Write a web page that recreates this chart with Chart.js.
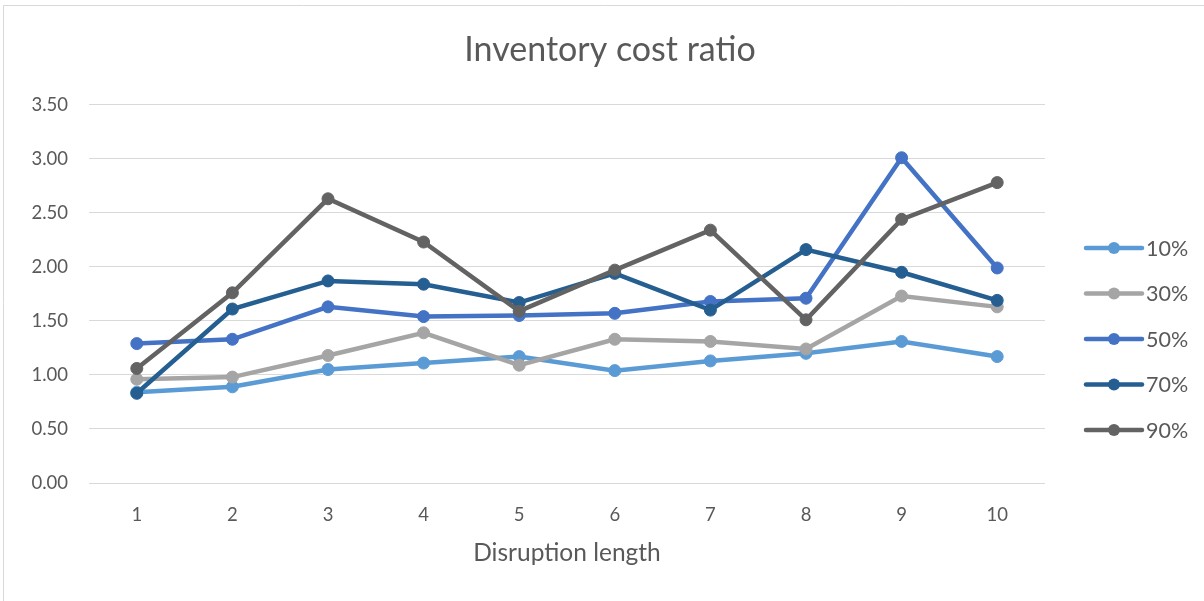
<!DOCTYPE html>
<html>
<head>
<meta charset="utf-8">
<title>Inventory cost ratio</title>
<script src="https://cdn.jsdelivr.net/npm/chart.js@4/dist/chart.umd.min.js"></script>
<style>
  html, body { margin: 0; padding: 0; background: #ffffff; }
  #wrap { position: relative; width: 1204px; height: 601px; }
</style>
</head>
<body>
<div id="wrap"><canvas id="chart" width="1204" height="601"></canvas></div>
<script>
// Disruption length categories
const categories = ['1', '2', '3', '4', '5', '6', '7', '8', '9', '10'];

// Inventory cost ratio per disruption level
const seriesLabels = ['10%', '30%', '50%', '70%', '90%'];
const s10 = [0.84, 0.89, 1.05, 1.11, 1.17, 1.04, 1.13, 1.20, 1.31, 1.17];
const s30 = [0.96, 0.98, 1.18, 1.39, 1.09, 1.33, 1.31, 1.24, 1.73, 1.63];
const s50 = [1.29, 1.33, 1.63, 1.54, 1.55, 1.57, 1.68, 1.71, 3.01, 1.99];
const s70 = [0.83, 1.61, 1.87, 1.84, 1.67, 1.94, 1.60, 2.16, 1.95, 1.69];
const s90 = [1.06, 1.76, 2.63, 2.23, 1.59, 1.97, 2.34, 1.51, 2.44, 2.78];
const seriesColors = ['#5B9BD5', '#A5A5A5', '#4472C4', '#255E91', '#636363'];

const allSeries = [s10, s30, s50, s70, s90];

const FONT = 'Lato, "Open Sans", "DejaVu Sans", sans-serif';
const TEXT = '#595959';

const datasets = allSeries.map((vals, i) => ({
  label: seriesLabels[i],
  data: vals,
  borderColor: seriesColors[i],
  backgroundColor: seriesColors[i],
  pointBackgroundColor: seriesColors[i],
  pointBorderColor: seriesColors[i],
  borderWidth: 4.5,
  pointRadius: 6,
  pointBorderWidth: 1,
  pointHoverRadius: 6,
  tension: 0,
  order: allSeries.length - 1 - i,
  yAxisID: 'y'
}));

// Thin frame around the chart
const framePlugin = {
  id: 'frame',
  beforeDraw(chart) {
    const ctx = chart.ctx;
    ctx.save();
    ctx.fillStyle = '#ffffff';
    ctx.fillRect(0, 0, chart.width, chart.height);
    ctx.strokeStyle = '#d9d9d9';
    ctx.lineWidth = 1;
    ctx.beginPath();
    ctx.moveTo(3.5, chart.height);
    ctx.lineTo(3.5, 5.5);
    ctx.lineTo(chart.width, 5.5);
    ctx.stroke();
    ctx.restore();
  }
};

// Legend on the right: line segment with a marker, then the label
const sideLegend = {
  id: 'sideLegend',
  afterDraw(chart) {
    const ctx = chart.ctx;
    const x0 = 1086, x1 = 1142, textX = 1146;
    const yStart = 248, step = 45.5;
    ctx.save();
    chart.data.datasets.forEach((ds, i) => {
      const y = yStart + i * step;
      ctx.strokeStyle = ds.borderColor;
      ctx.lineWidth = 4.5;
      ctx.lineCap = 'round';
      ctx.beginPath();
      ctx.moveTo(x0, y);
      ctx.lineTo(x1, y);
      ctx.stroke();
      ctx.fillStyle = ds.pointBackgroundColor;
      ctx.beginPath();
      ctx.arc((x0 + x1) / 2, y, 6, 0, Math.PI * 2);
      ctx.fill();
      ctx.fillStyle = TEXT;
      ctx.font = '21.5px ' + FONT;
      ctx.textBaseline = 'middle';
      ctx.textAlign = 'left';
      ctx.fillText(ds.label, textX, y + 1);
    });
    ctx.restore();
  }
};

new Chart(document.getElementById('chart'), {
  type: 'line',
  data: { labels: categories, datasets },
  plugins: [framePlugin, sideLegend],
  options: {
    responsive: false,
    animation: false,
    devicePixelRatio: 1,
    layout: { padding: { left: 16, right: 0, top: 0, bottom: 0 } },
    plugins: {
      legend: { display: false },
      tooltip: { enabled: false },
      title: {
        display: true,
        text: 'Inventory cost ratio',
        color: TEXT,
        font: { family: FONT, size: 34, weight: 'normal' },
        padding: { top: 30, bottom: 34 }
      }
    },
    scales: {
      x: {
        offset: true,
        grid: { display: false, drawTicks: false },
        border: { display: false },
        ticks: { color: TEXT, font: { family: FONT, size: 18.5 }, padding: 21 },
        title: {
          display: true,
          text: 'Disruption length',
          color: TEXT,
          font: { family: FONT, size: 24.5 },
          padding: { top: 0, bottom: 33 }
        },
        afterFit(scale) { scale.height = 118; }
      },
      y: {
        min: 0,
        max: 3.5,
        ticks: {
          stepSize: 0.5,
          color: TEXT,
          font: { family: FONT, size: 18.5 },
          padding: 21,
          callback: v => v.toFixed(2)
        },
        grid: { color: '#d9d9d9', lineWidth: 1, drawTicks: false },
        border: { display: false },
        afterFit(scale) { scale.width = 73; }
      },
      legendSpace: {
        position: 'right',
        display: true,
        grid: { display: false, drawTicks: false },
        border: { display: false },
        ticks: { display: false },
        afterFit(scale) { scale.width = 159; }
      }
    }
  }
});
</script>
</body>
</html>
